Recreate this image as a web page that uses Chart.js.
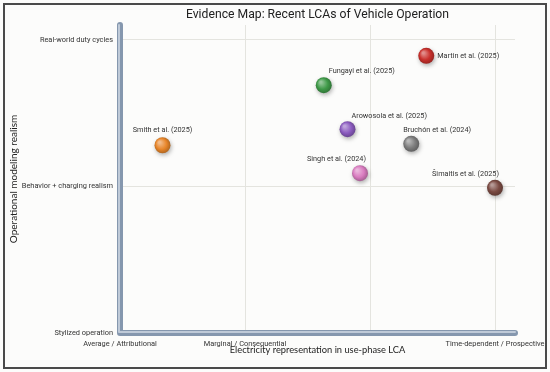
<!DOCTYPE html>
<html>
<head>
<meta charset="utf-8">
<script src="https://cdn.jsdelivr.net/npm/chart.js@4.4.1/dist/chart.umd.min.js"></script>
<style>
  html, body { margin: 0; padding: 0; background: #fcfcfb; }
  #wrap { width: 550px; height: 372px; position: relative; }
</style>
</head>
<body>
<div id="wrap"><canvas id="evidenceChart" width="550" height="372"></canvas></div>
<script>
// data
const studies = ['Smith et al. (2025)', 'Martin et al. (2025)', 'Fungayi et al. (2025)', 'Arowosola et al. (2025)',
                 'Bruchón et al. (2024)', 'Singh et al. (2024)', 'Šimaitis et al. (2025)'];
const electricityScore = [0.34, 2.45, 1.63, 1.82, 2.33, 1.92, 3.0];
const realismScore = [1.28, 1.89, 1.69, 1.39, 1.29, 1.09, 0.99];
const pointColors = ['#e8862a', '#c9302c', '#3f9a48', '#8b5bbf', '#7d7d7d', '#d97cc0', '#7a4a42'];

const xTickValues = [0, 1, 2, 3];
const xTickLabels = ['Average / Attributional', 'Marginal / Consequential', '', 'Time-dependent / Prospective'];
const yTickValues = [0, 1, 2];
const yTickLabels = ['Stylized operation', 'Behavior + charging realism', 'Real-world duty cycles'];

// label placement relative to each marker (dx, dy, align)
const labelPlacement = [
    [0, -15, 'center'], [11, 0, 'left'], [38, -14, 'center'], [4, -13, 'left'],
    [-8, -14, 'left'], [6, -14, 'right'], [4, -14, 'right']
];

const FONT = 'Roboto, "Liberation Sans", sans-serif';
const TITLE_FONT = 'Lato, Roboto, sans-serif';

function shade(hex, amt) {
    const n = parseInt(hex.slice(1), 16);
    let r = (n >> 16) & 255, g = (n >> 8) & 255, b = n & 255;
    const f = v => Math.max(0, Math.min(255, Math.round(amt > 0 ? v + (255 - v) * amt : v * (1 + amt))));
    return `rgb(${f(r)},${f(g)},${f(b)})`;
}

function ballFill(context) {
    const chart = context.chart;
    const i = context.dataIndex;
    if (!chart.chartArea || i === undefined) return pointColors[i] || '#888';
    const px = chart.scales.x.getPixelForValue(electricityScore[i]);
    const py = chart.scales.y.getPixelForValue(realismScore[i]);
    const g = chart.ctx.createRadialGradient(px - 3, py - 3, 1, px, py, 9);
    g.addColorStop(0, shade(pointColors[i], 0.45));
    g.addColorStop(0.55, pointColors[i]);
    g.addColorStop(1, shade(pointColors[i], -0.3));
    return g;
}

const framePlugin = {
    id: 'frame',
    beforeDraw(chart) {
        const ctx = chart.ctx;
        ctx.save();
        ctx.fillStyle = '#fcfcfb';
        ctx.fillRect(0, 0, chart.width, chart.height);
        ctx.strokeStyle = '#4a4a4a';
        ctx.lineWidth = 2;
        ctx.strokeRect(4, 4, chart.width - 8, chart.height - 8);
        ctx.restore();
    },
    beforeDatasetsDraw(chart) {
        // thick rounded axis bars
        const ctx = chart.ctx;
        const a = chart.chartArea;
        ctx.save();
        ctx.lineCap = 'round';
        ctx.lineJoin = 'round';
        ctx.beginPath();
        ctx.moveTo(a.left, a.top);
        ctx.lineTo(a.left, a.bottom);
        ctx.lineTo(a.right, a.bottom);
        ctx.strokeStyle = '#8597ae';
        ctx.lineWidth = 6;
        ctx.stroke();
        ctx.beginPath();
        ctx.moveTo(a.left - 1, a.top);
        ctx.lineTo(a.left - 1, a.bottom - 1);
        ctx.lineTo(a.right, a.bottom - 1);
        ctx.strokeStyle = '#bfcad8';
        ctx.lineWidth = 2;
        ctx.stroke();
        ctx.restore();

        // title centred over plot area
        ctx.save();
        ctx.font = '12.2px ' + FONT;
        ctx.fillStyle = '#222';
        ctx.textAlign = 'center';
        ctx.textBaseline = 'middle';
        ctx.fillText('Evidence Map: Recent LCAs of Vehicle Operation', (a.left + a.right) / 2, 15);
        ctx.restore();
    },
    beforeDatasetDraw(chart) {
        const ctx = chart.ctx;
        ctx.save();
        ctx.shadowColor = 'rgba(0,0,0,0.3)';
        ctx.shadowBlur = 4;
        ctx.shadowOffsetX = 1;
        ctx.shadowOffsetY = 2;
    },
    afterDatasetDraw(chart) {
        chart.ctx.restore();
    },
    afterDatasetsDraw(chart) {
        const ctx = chart.ctx;
        const meta = chart.getDatasetMeta(0);
        ctx.save();
        ctx.font = '7.3px ' + FONT;
        ctx.fillStyle = '#333';
        ctx.textBaseline = 'middle';
        meta.data.forEach((pt, i) => {
            const [dx, dy, align] = labelPlacement[i];
            ctx.textAlign = align;
            ctx.fillText(studies[i], pt.x + dx, pt.y + dy);
        });
        ctx.restore();
    }
};

const ctx = document.getElementById('evidenceChart').getContext('2d');
new Chart(ctx, {
    type: 'scatter',
    data: {
        datasets: [{
            label: 'Studies',
            data: electricityScore.map((x, i) => ({ x: x, y: realismScore[i] })),
            backgroundColor: ballFill,
            borderWidth: 0,
            pointRadius: 8,
            pointHoverRadius: 8
        }]
    },
    options: {
        responsive: false,
        animation: false,
        layout: { padding: { top: 25, right: 35, left: 0, bottom: 0 } },
        plugins: {
            legend: { display: false },
            tooltip: { enabled: false }
        },
        scales: {
            x: {
                type: 'linear',
                min: 0,
                max: 3.16,
                afterFit: s => { s.height = 39; s.paddingLeft = 0; s.paddingRight = 0; },
                afterBuildTicks: s => { s.ticks = xTickValues.map(v => ({ value: v })); },
                border: { display: false },
                grid: { color: '#e4e4df', drawTicks: false },
                ticks: {
                    padding: 7,
                    maxRotation: 0,
                    autoSkip: false,
                    color: '#333',
                    font: { size: 7.4, family: FONT },
                    callback: (v, idx) => xTickLabels[idx]
                },
                title: {
                    display: true,
                    text: 'Electricity representation in use-phase LCA',
                    color: '#222',
                    font: { size: 9.3, family: TITLE_FONT },
                    padding: { top: 0, bottom: 16 }
                }
            },
            y: {
                type: 'linear',
                min: 0,
                max: 2.1,
                afterFit: s => { s.width = 120; },
                afterBuildTicks: s => { s.ticks = yTickValues.map(v => ({ value: v })); },
                border: { display: false },
                grid: { color: '#e4e4df', drawTicks: false },
                ticks: {
                    padding: 7,
                    autoSkip: false,
                    color: '#333',
                    font: { size: 7.4, family: FONT },
                    callback: (v, idx) => yTickLabels[idx]
                },
                title: {
                    display: true,
                    text: 'Operational modeling realism',
                    color: '#222',
                    font: { size: 10, family: TITLE_FONT },
                    padding: { top: 8, bottom: 0 }
                }
            }
        }
    },
    plugins: [framePlugin]
});
</script>
</body>
</html>
